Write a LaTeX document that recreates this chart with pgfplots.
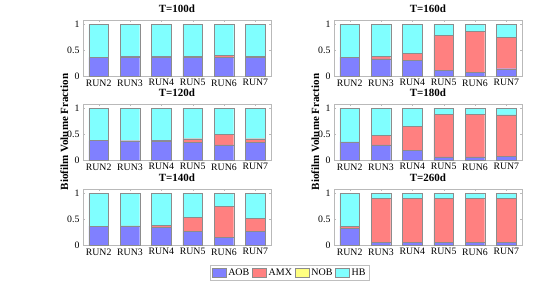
\documentclass[border=0pt]{standalone}
\usepackage{fontspec}
\setmainfont{Liberation Serif}
\usepackage{pgfplots}
\usepackage{pgfplotstable}
\pgfplotsset{compat=1.18}
\definecolor{aob}{RGB}{128,128,255}
\definecolor{amx}{RGB}{255,128,128}
\definecolor{nob}{RGB}{255,255,128}
\definecolor{hb}{RGB}{128,255,255}

\pgfplotstableread{
x AOB AMX NOB HB
1 0.36 0.000 0 0.640
2 0.37 0.010 0 0.620
3 0.37 0.005 0 0.625
4 0.36 0.020 0 0.620
5 0.36 0.040 0 0.600
6 0.36 0.020 0 0.620
}\tA
\pgfplotstableread{
x AOB AMX NOB HB
1 0.375 0.000 0 0.625
2 0.370 0.003 0 0.627
3 0.370 0.005 0 0.625
4 0.340 0.070 0 0.590
5 0.290 0.200 0 0.510
6 0.340 0.070 0 0.590
}\tB
\pgfplotstableread{
x AOB AMX NOB HB
1 0.366 0.000 0 0.634
2 0.365 0.005 0 0.630
3 0.345 0.040 0 0.615
4 0.270 0.270 0 0.460
5 0.150 0.590 0 0.260
6 0.270 0.250 0 0.480
}\tC
\pgfplotstableread{
x AOB AMX NOB HB
1 0.365 0.000 0 0.635
2 0.330 0.050 0 0.620
3 0.300 0.140 0 0.560
4 0.115 0.675 0 0.210
5 0.075 0.790 0 0.135
6 0.140 0.605 0 0.255
}\tD
\pgfplotstableread{
x AOB AMX NOB HB
1 0.350 0.000 0 0.650
2 0.290 0.180 0 0.530
3 0.190 0.455 0 0.355
4 0.060 0.820 0 0.120
5 0.060 0.820 0 0.120
6 0.070 0.800 0 0.130
}\tE
\pgfplotstableread{
x AOB AMX NOB HB
1 0.320 0.045 0 0.635
2 0.050 0.845 0 0.105
3 0.050 0.845 0 0.105
4 0.050 0.845 0 0.105
5 0.050 0.845 0 0.105
6 0.050 0.845 0 0.105
}\tF

\pgfplotsset{
  panel/.style={
    anchor=south west,
    width=188pt, height=56pt, scale only axis,
    ybar stacked, bar width=0.62,
    xmin=0.5, xmax=6.5, ymin=0, ymax=1.08,
    xtick={1,2,3,4,5,6},
    xticklabels={RUN2,RUN3,RUN4,RUN5,RUN6,RUN7},
    ytick={0,0.5,1}, yticklabels={0,0.5,1},
    tick align=inside, major tick length=2pt,
    axis line style={gray!55}, tick style={gray!55},
    tick label style={font=\fontsize{9.8}{10}\selectfont, text=black},
    title style={font=\bfseries\fontsize{11}{12}\selectfont, yshift=-2pt},
    label style={font=\bfseries\fontsize{11}{12}\selectfont},
    ylabel style={yshift=-8pt},
    /pgf/number format/assume math mode=true,
    every axis plot/.append style={draw=black!45, line width=0.3pt},
  },
}
\newcommand{\bars}[1]{%
  \addplot[fill=aob] table[x=x,y=AOB] {#1};
  \addplot[fill=amx] table[x=x,y=AMX] {#1};
  \addplot[fill=nob] table[x=x,y=NOB] {#1};
  \addplot[fill=hb]  table[x=x,y=HB]  {#1};
}

\begin{document}
\begin{tikzpicture}
\useasboundingbox (0pt,0pt) rectangle (551pt,285pt);
% left column
\begin{axis}[panel, at={(83pt,209pt)}, title={T=100d}]
\bars{\tA}
\end{axis}
\begin{axis}[panel, at={(83pt,125pt)}, title={T=120d}, ylabel={Biofilm Volume Fraction}]
\bars{\tB}
\end{axis}
\begin{axis}[panel, at={(83pt,40pt)}, title={T=140d},
  legend columns=4,
  legend style={at={(1.10,-0.50)}, anchor=center, draw=gray!50,
    font=\fontsize{10}{11}\selectfont, inner sep=1.5pt,
    /tikz/every even column/.append style={column sep=1pt}},
  legend image code/.code={\draw[#1] (0pt,-4pt) rectangle (14pt,5pt);},
  ]
\bars{\tC}
\legend{AOB,AMX,NOB,HB}
\end{axis}
% right column
\begin{axis}[panel, at={(334pt,209pt)}, title={T=160d}]
\bars{\tD}
\end{axis}
\begin{axis}[panel, at={(334pt,125pt)}, title={T=180d}, ylabel={Biofilm Volume Fraction}]
\bars{\tE}
\end{axis}
\begin{axis}[panel, at={(334pt,40pt)}, title={T=260d}]
\bars{\tF}
\end{axis}
\end{tikzpicture}
\end{document}
